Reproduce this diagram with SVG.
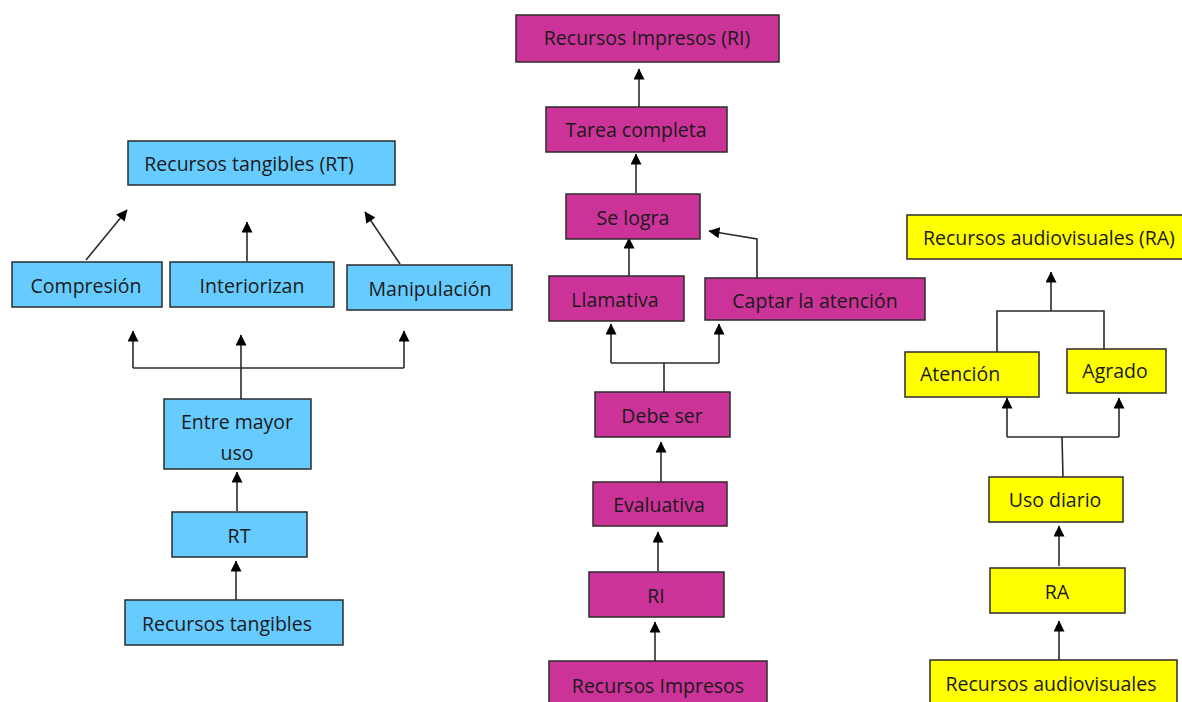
<svg xmlns="http://www.w3.org/2000/svg" width="1182" height="702" viewBox="0 0 1182 702">
<style>
rect{stroke:#2b2b2b;stroke-width:1.5}
.b{fill:#66CCFF}.m{fill:#CC3399}.y{fill:#FFFF00}
text{font-family:"Open Sans","Noto Sans","Liberation Sans",sans-serif;font-size:19.5px;fill:#1a1a1a;text-anchor:middle;dominant-baseline:central}
.l{text-anchor:start}
#conn path{fill:none;stroke:#2b2b2b;stroke-width:1.6}
</style>
<defs>
<marker id="ah" viewBox="0 0 10 10" refX="9.5" refY="5" markerWidth="12" markerHeight="11" markerUnits="userSpaceOnUse" orient="auto">
<path d="M0,0 L10,5 L0,10 z" fill="#000"/>
</marker>
</defs>
<rect width="1182" height="702" fill="#fff" style="stroke:none"/>
<g id="conn">
<path d="M86,260 L127,210" marker-end="url(#ah)"/>
<path d="M247,261 L247,222" marker-end="url(#ah)"/>
<path d="M400,264 L365,212" marker-end="url(#ah)"/>
<path d="M133,368 L133,331" marker-end="url(#ah)"/>
<path d="M404,368 L404,331" marker-end="url(#ah)"/>
<path d="M133,368 L404,368"/>
<path d="M241,399 L241,335" marker-end="url(#ah)"/>
<path d="M237,511 L237,472" marker-end="url(#ah)"/>
<path d="M236,600 L236,561" marker-end="url(#ah)"/>
<path d="M639,107 L639,69" marker-end="url(#ah)"/>
<path d="M636,193 L636,154" marker-end="url(#ah)"/>
<path d="M629,276 L629,238" marker-end="url(#ah)"/>
<path d="M757,278 L757,239 L709,231" marker-end="url(#ah)"/>
<path d="M611,363 L611,324" marker-end="url(#ah)"/>
<path d="M719,363 L719,324" marker-end="url(#ah)"/>
<path d="M611,363 L719,363 M664,363 L664,392"/>
<path d="M661,482 L661,442" marker-end="url(#ah)"/>
<path d="M658,571 L658,532" marker-end="url(#ah)"/>
<path d="M655,661 L655,622" marker-end="url(#ah)"/>
<path d="M1051,311 L1051,272" marker-end="url(#ah)"/>
<path d="M997,352 L997,311 L1104,311 L1104,349"/>
<path d="M1007,437 L1007,398" marker-end="url(#ah)"/>
<path d="M1119,437 L1119,398" marker-end="url(#ah)"/>
<path d="M1007,437 L1119,437 M1062,437 L1063,477"/>
<path d="M1059,566 L1059,526" marker-end="url(#ah)"/>
<path d="M1059,660 L1059,621" marker-end="url(#ah)"/>
</g>
<g id="n-rt-top"><rect class="b" x="128" y="141" width="267" height="44"/><text x="249" y="163">Recursos tangibles (RT)</text></g>
<g id="n-compresion"><rect class="b" x="12" y="262" width="150" height="45"/><text x="86" y="285">Compresión</text></g>
<g id="n-interiorizan"><rect class="b" x="170" y="262" width="164" height="45"/><text x="252" y="285">Interiorizan</text></g>
<g id="n-manipulacion"><rect class="b" x="347" y="265" width="165" height="45"/><text x="430" y="288">Manipulación</text></g>
<g id="n-entre"><rect class="b" x="164" y="399" width="147" height="70"/><text x="237" y="421">Entre mayor</text><text x="237" y="452">uso</text></g>
<g id="n-rt"><rect class="b" x="172" y="512" width="135" height="45"/><text x="239" y="535">RT</text></g>
<g id="n-rt-bottom"><rect class="b" x="125" y="600" width="218" height="45"/><text x="227" y="623">Recursos tangibles</text></g>
<g id="n-ri-top"><rect class="m" x="516" y="15" width="263" height="47"/><text x="647" y="37">Recursos Impresos (RI)</text></g>
<g id="n-tarea"><rect class="m" x="546" y="107" width="181" height="45"/><text x="636" y="129">Tarea completa</text></g>
<g id="n-selogra"><rect class="m" x="566" y="194" width="134" height="45"/><text x="633" y="217">Se logra</text></g>
<g id="n-llamativa"><rect class="m" x="549" y="276" width="135" height="45"/><text x="615" y="299">Llamativa</text></g>
<g id="n-captar"><rect class="m" x="705" y="278" width="220" height="42"/><text x="815" y="300">Captar la atención</text></g>
<g id="n-debe"><rect class="m" x="595" y="392" width="135" height="45"/><text x="662" y="415">Debe ser</text></g>
<g id="n-evaluativa"><rect class="m" x="593" y="482" width="134" height="44"/><text x="659" y="504">Evaluativa</text></g>
<g id="n-ri"><rect class="m" x="589" y="572" width="135" height="45"/><text x="656" y="595">RI</text></g>
<g id="n-ri-bottom"><rect class="m" x="549" y="661" width="218" height="50"/><text x="658" y="685">Recursos Impresos</text></g>
<g id="n-ra-top"><rect class="y" x="907" y="215" width="280" height="44"/><text class="l" x="923" y="237">Recursos audiovisuales (RA)</text></g>
<g id="n-atencion"><rect class="y" x="905" y="352" width="134" height="45"/><text class="l" x="920" y="373">Atención</text></g>
<g id="n-agrado"><rect class="y" x="1067" y="349" width="99" height="44"/><text x="1115" y="370">Agrado</text></g>
<g id="n-uso"><rect class="y" x="989" y="477" width="134" height="45"/><text x="1055" y="499">Uso diario</text></g>
<g id="n-ra"><rect class="y" x="990" y="568" width="135" height="45"/><text x="1057" y="591">RA</text></g>
<g id="n-ra-bottom"><rect class="y" x="930" y="660" width="247" height="50"/><text x="1051" y="683">Recursos audiovisuales</text></g>
</svg>
